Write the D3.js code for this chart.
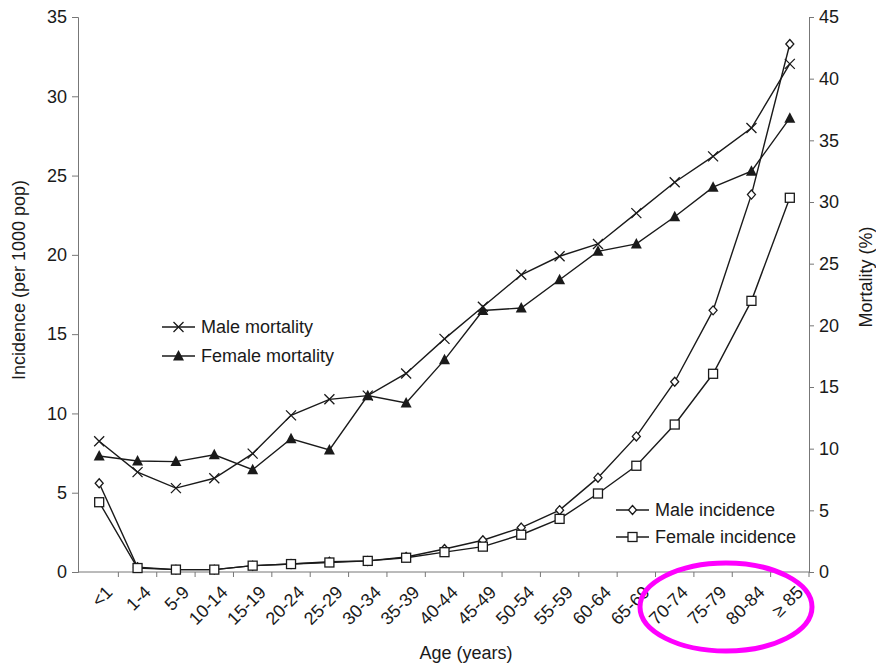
<!DOCTYPE html>
<html>
<head>
<meta charset="utf-8">
<script src="https://cdn.jsdelivr.net/npm/d3@7"></script>
<style>
  body { margin: 0; background: #fff; }
  svg text { font-family: "Liberation Sans", Arial, sans-serif; fill: #1a1a1a; }
</style>
</head>
<body>
<div id="chart"></div>
<script>
// categories
const ageGroups = ["<1", "1-4", "5-9", "10-14", "15-19", "20-24", "25-29", "30-34", "35-39",
  "40-44", "45-49", "50-54", "55-59", "60-64", "65-69", "70-74", "75-79", "80-84", "≥ 85"];

// incidence (per 1000 pop), left axis
const maleIncidence = [5.6, 0.3, 0.15, 0.15, 0.4, 0.5, 0.65, 0.7, 0.95, 1.45, 2.0, 2.8, 3.9, 5.95, 8.55, 12.0, 16.5, 23.8, 33.3];
const femaleIncidence = [4.4, 0.25, 0.15, 0.15, 0.4, 0.5, 0.6, 0.7, 0.9, 1.25, 1.6, 2.35, 3.35, 4.95, 6.7, 9.3, 12.5, 17.1, 23.6];

// mortality (%), right axis
const maleMortality = [10.6, 8.1, 6.8, 7.6, 9.6, 12.7, 14.0, 14.3, 16.1, 18.9, 21.5, 24.1, 25.6, 26.6, 29.1, 31.6, 33.7, 36.0, 41.2];
const femaleMortality = [9.4, 9.0, 8.95, 9.5, 8.3, 10.8, 9.9, 14.3, 13.7, 17.2, 21.2, 21.4, 23.7, 26.0, 26.6, 28.8, 31.2, 32.5, 36.8];

const leftTicks = [0, 5, 10, 15, 20, 25, 30, 35];
const rightTicks = [0, 5, 10, 15, 20, 25, 30, 35, 40, 45];

const width = 876, height = 665;
const margin = { top: 17, right: 67, bottom: 93, left: 78 };
const innerW = width - margin.left - margin.right;
const innerH = height - margin.top - margin.bottom;

const svg = d3.select("#chart").append("svg")
  .attr("width", width)
  .attr("height", height);
const g = svg.append("g").attr("transform", `translate(${margin.left},${margin.top})`);

// scales
const x = d3.scaleBand().domain(ageGroups).range([2, innerW]);
const cx = d => x(d) + x.bandwidth() / 2;
const yL = d3.scaleLinear().domain([0, 35]).range([innerH, 0]);
const yR = d3.scaleLinear().domain([0, 45]).range([innerH, 0]);

const axisColor = "#777";
const inkColor = "#1a1a1a";
const fontSize = 18;

// left axis
g.append("g")
  .call(d3.axisLeft(yL).tickValues(leftTicks).tickSize(6).tickPadding(5))
  .call(a => a.select(".domain").attr("stroke", axisColor))
  .call(a => a.selectAll(".tick line").attr("stroke", axisColor))
  .call(a => a.selectAll("text").attr("font-size", fontSize).attr("font-family", null));

// right axis
g.append("g")
  .attr("transform", `translate(${innerW},0)`)
  .call(d3.axisRight(yR).tickValues(rightTicks).tickSize(5).tickPadding(5))
  .call(a => a.select(".domain").attr("stroke", axisColor))
  .call(a => a.selectAll(".tick line").attr("stroke", axisColor))
  .call(a => a.selectAll("text").attr("font-size", fontSize).attr("font-family", null));

// x axis
const gx = g.append("g").attr("transform", `translate(0,${innerH})`);
gx.append("line")
  .attr("x1", 0).attr("x2", innerW)
  .attr("stroke", axisColor);
const bounds = ageGroups.map(d => x(d)).concat([x(ageGroups[ageGroups.length - 1]) + x.bandwidth()]);
gx.selectAll(".xtick")
  .data(bounds.slice(1))
  .join("line")
  .attr("class", "xtick")
  .attr("x1", d => d).attr("x2", d => d)
  .attr("y1", 0).attr("y2", 5)
  .attr("stroke", axisColor);
gx.selectAll(".xlabel")
  .data(ageGroups)
  .join("text")
  .attr("class", "xlabel")
  .attr("text-anchor", "end")
  .attr("font-size", fontSize)
  .attr("transform", d => `translate(${cx(d) + 10},${17}) rotate(-45)`)
  .attr("dy", "0.35em")
  .text(d => d);

// axis titles
svg.append("text")
  .attr("transform", `translate(25,${280}) rotate(-90)`)
  .attr("text-anchor", "middle")
  .attr("font-size", fontSize)
  .text("Incidence (per 1000 pop)");
svg.append("text")
  .attr("transform", `translate(872,${277}) rotate(-90)`)
  .attr("text-anchor", "middle")
  .attr("font-size", fontSize)
  .text("Mortality (%)");
svg.append("text")
  .attr("x", 466).attr("y", 659)
  .attr("text-anchor", "middle")
  .attr("font-size", fontSize)
  .text("Age (years)");

// series
const series = [
  { name: "Male mortality", values: maleMortality, y: yR, marker: "cross" },
  { name: "Female mortality", values: femaleMortality, y: yR, marker: "triangle" },
  { name: "Male incidence", values: maleIncidence, y: yL, marker: "diamond" },
  { name: "Female incidence", values: femaleIncidence, y: yL, marker: "square" },
];

function drawMarker(sel, type) {
  if (type === "cross") {
    sel.append("path").attr("d", "M-5,-5L5,5M-5,5L5,-5")
      .attr("stroke", inkColor).attr("stroke-width", 1.3).attr("fill", "none");
  } else if (type === "triangle") {
    sel.append("path").attr("d", "M0,-6L5.5,4.5L-5.5,4.5Z").attr("fill", inkColor);
  } else if (type === "diamond") {
    sel.append("path").attr("d", "M0,-4.5L4,0L0,4.5L-4,0Z")
      .attr("fill", "#fff").attr("stroke", inkColor).attr("stroke-width", 1.3);
  } else {
    sel.append("rect").attr("x", -4.5).attr("y", -4.5).attr("width", 9).attr("height", 9)
      .attr("fill", "#fff").attr("stroke", inkColor).attr("stroke-width", 1.3);
  }
}

const line = (yScale) => d3.line().x((d, i) => cx(ageGroups[i])).y(d => yScale(d));

for (const s of series) {
  g.append("path")
    .datum(s.values)
    .attr("fill", "none")
    .attr("stroke", inkColor)
    .attr("stroke-width", 1.4)
    .attr("d", line(s.y));
}
for (const s of series) {
  g.append("g").selectAll("g")
    .data(s.values)
    .join("g")
    .attr("transform", (d, i) => `translate(${cx(ageGroups[i])},${s.y(d)})`)
    .each(function () { drawMarker(d3.select(this), s.marker); });
}

// legends
function legend(items, lx, ly, step) {
  const lg = svg.append("g").attr("transform", `translate(${lx},${ly})`);
  items.forEach((s, i) => {
    const row = lg.append("g").attr("transform", `translate(0,${i * step})`);
    row.append("line").attr("x1", 0).attr("x2", 33)
      .attr("stroke", inkColor).attr("stroke-width", 1.4);
    drawMarker(row.append("g").attr("transform", "translate(16.5,0)"), s.marker);
    row.append("text").attr("x", 39).attr("dy", "0.35em")
      .attr("font-size", fontSize).text(s.name);
  });
}
legend(series.slice(0, 2), 162, 327, 29);
legend(series.slice(2), 616, 510, 27);

// highlight ellipse around the oldest age groups
svg.append("ellipse")
  .attr("cx", 726).attr("cy", 607)
  .attr("rx", 86).attr("ry", 44)
  .attr("fill", "none")
  .attr("stroke", "#ff00ff")
  .attr("stroke-width", 5);
</script>
</body>
</html>
